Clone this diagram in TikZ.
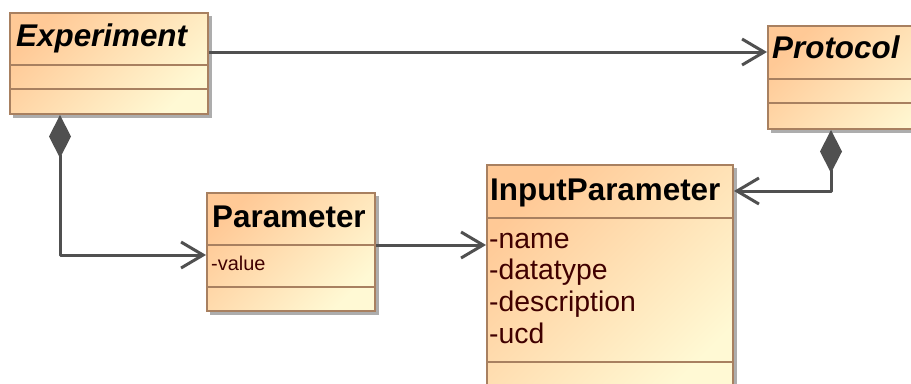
\documentclass[tikz,border=0pt]{standalone}
\usepackage{fontspec}
\setmainfont{Liberation Sans}
\usetikzlibrary{arrows.meta}
\definecolor{boxtop}{RGB}{255,201,150}
\definecolor{boxbot}{RGB}{255,249,212}
\definecolor{boxline}{RGB}{168,128,96}
\definecolor{wire}{RGB}{80,80,80}
\definecolor{attr}{RGB}{64,0,0}
\newcommand{\classTitle}[0]{\fontsize{31.5}{36}\selectfont\bfseries}
\newcommand{\attrBig}[0]{\fontsize{28.5}{32}\selectfont}
\newcommand{\attrSmall}[0]{\fontsize{20}{24}\selectfont}

\begin{document}
\begin{tikzpicture}[x=1bp, y=-1bp]
  \tikzset{umlbox/.style={draw=boxline, line width=2bp, anchor=north west,
             inner sep=0, shading=axis, top color=boxtop, bottom color=boxbot,
             shading angle=45},
           umlshadow/.style={fill=black!32},
           divider/.style={boxline, line width=2bp},
           label/.style={anchor=base west, inner sep=0},
           link/.style={wire, line width=3bp, line join=round,
             -{Straight Barb[length=22bp, width=26bp, line width=3bp]}},
           owns/.style={link, {Diamond[length=43bp, width=22bp, fill=wire]}-{Straight Barb[length=22bp, width=26bp, line width=3bp]}}}
  \useasboundingbox (0,0) rectangle (911,383);
  \clip (0,0) rectangle (911,383);
  % shadows
  \fill[umlshadow] (13,16) rectangle (212,118);
  \fill[umlshadow] (771,29) rectangle (960,133);
  \fill[umlshadow] (210,196) rectangle (379,315);
  \fill[umlshadow] (490,168) rectangle (737,400);
  % classes
  \node[umlbox, minimum width=198bp, minimum height=101bp] (exp) at (9,12) {};
  \draw[divider] (9,65) -- (207,65) (9,89) -- (207,89);
  \node[label] (expname) at (16,46) {\classTitle\itshape Experiment};

  \node[umlbox, minimum width=189bp, minimum height=103bp] (prot) at (767,25) {};
  \draw[divider] (767,79) -- (956,79) (767,103) -- (956,103);
  \node[label] (protname) at (772,58) {\classTitle\itshape Protocol};

  \node[umlbox, minimum width=168bp, minimum height=118bp] (par) at (206,192) {};
  \draw[divider] (206,245) -- (374,245) (206,287) -- (374,287);
  \node[label] (parname) at (212,227) {\classTitle Parameter};
  \node[label, text=attr] (parval) at (211,270) {\attrSmall -value};

  \node[umlbox, minimum width=246bp, minimum height=232bp] (inp) at (486,164) {};
  \draw[divider] (486,218) -- (732,218) (486,362) -- (732,362);
  \node[label] (inpname) at (490,200) {\classTitle InputParameter};
  \node[label, text=attr] (inpa) at (489,248) {\attrBig -name};
  \node[label, text=attr] (inpb) at (489,279.5) {\attrBig -datatype};
  \node[label, text=attr] (inpc) at (489,311) {\attrBig -description};
  \node[label, text=attr] (inpd) at (489,343) {\attrBig -ucd};

  % connectors
  \draw[link] (exp.east |- 0,52) -- (prot.west |- 0,52);
  \draw[owns] (exp.south -| 60,0) |- (par.west |- 0,255);
  \draw[link] (par.east |- 0,245) -- (inp.west |- 0,245);
  \draw[owns] (prot.south -| 831,0) |- (inp.east |- 0,191);
\end{tikzpicture}
\end{document}
